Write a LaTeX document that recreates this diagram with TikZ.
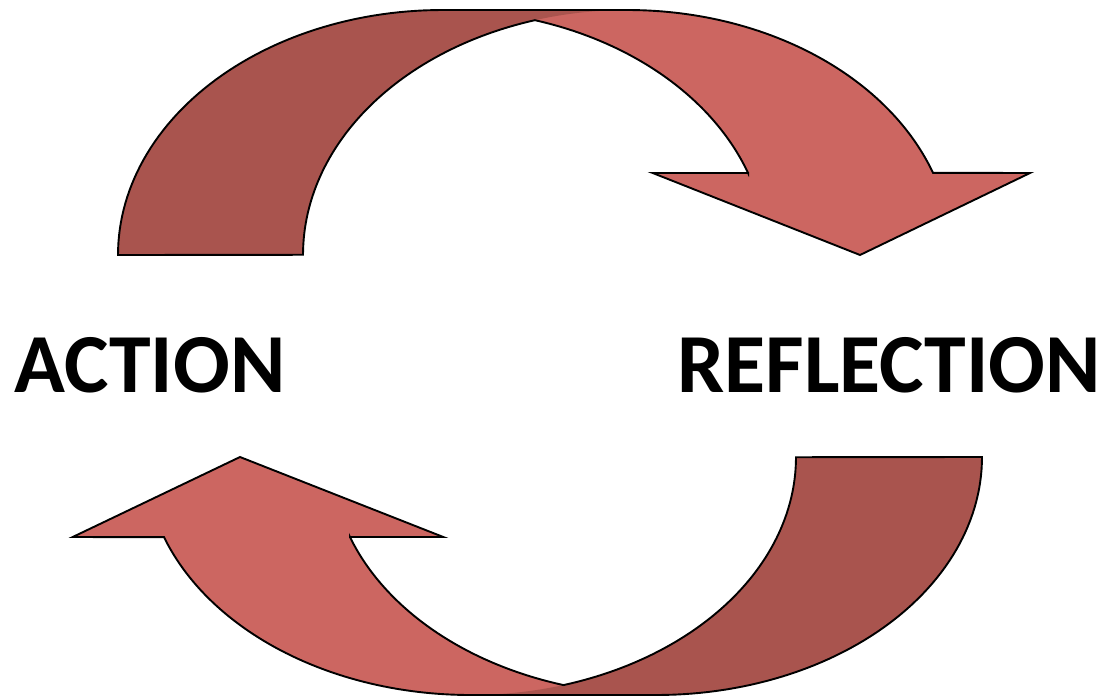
\documentclass[tikz,border=0pt]{standalone}
\usepackage{fontspec}
\setmainfont{Carlito}
\definecolor{arwlight}{RGB}{204,102,97}
\definecolor{arwdark}{RGB}{169,84,78}
\tikzset{
  lightpart/.style={fill=arwlight},
  darkpart/.style={fill=arwdark},
  outline/.style={draw=black,line width=1.9pt,line join=miter},
  label/.style={inner sep=0pt,anchor=base,font=\bfseries\fontsize{84}{100}\selectfont}
}
% #1 l, #2 b, #3 h, #4 wR, #5 th, #6 ah, #7 x4, #8 x8, #9 x6
\newcommand{\curvarrow}[9]{%
  \pgfmathsetmacro\arwCA{#1+#4}%
  \pgfmathsetmacro\arwCB{#1+#4+#5}%
  \pgfmathsetmacro\arwTop{#2-#3}%
  \pgfmathsetmacro\arwY{#2-#6}%
  \pgfmathsetmacro\arwS{asin(#6/#3)}%
  \pgfmathsetmacro\arwIA{acos((#5/2)/#4)}%
  \pgfmathsetmacro\arwIB{180-\arwIA}%
  \pgfmathsetmacro\arwXf{\arwCA+#4*cos(\arwS)}%
  % light (front) band
  \fill[lightpart] (#7,\arwY) -- (\arwXf,\arwY)
    -- plot[domain=0:1,samples=60,variable=\t]
       ({\arwCA+#4*cos(\arwS+(90-\arwS)*\t)},{#2-#3*sin(\arwS+(90-\arwS)*\t)})
    -- (\arwCB,\arwTop)
    -- plot[domain=0:1,samples=60,variable=\t]
       ({\arwCB+#4*cos(90+(\arwS-90)*\t)},{#2-#3*sin(90+(\arwS-90)*\t)})
    -- (#8,\arwY) -- (#9,#2) -- cycle;
  % dark (back) band
  \fill[darkpart] (#1,#2)
    -- plot[domain=0:1,samples=60,variable=\t]
       ({\arwCA+#4*cos(180-90*\t)},{#2-#3*sin(180-90*\t)})
    -- (\arwCB,\arwTop)
    -- plot[domain=0:1,samples=60,variable=\t]
       ({\arwCB+#4*cos(90+90*\t)},{#2-#3*sin(90+90*\t)})
    -- cycle;
  % outline
  \draw[outline] (#1,#2)
    -- plot[domain=0:1,samples=60,variable=\t]
       ({\arwCA+#4*cos(180-90*\t)},{#2-#3*sin(180-90*\t)})
    -- (\arwCB,\arwTop)
    -- plot[domain=0:1,samples=60,variable=\t]
       ({\arwCB+#4*cos(90+(\arwS-90)*\t)},{#2-#3*sin(90+(\arwS-90)*\t)})
    -- (#8,\arwY) -- (#9,#2) -- (#7,\arwY) -- (\arwXf,\arwY)
    -- plot[domain=0:1,samples=60,variable=\t]
       ({\arwCA+#4*cos(\arwS+(\arwIA-\arwS)*\t)},{#2-#3*sin(\arwS+(\arwIA-\arwS)*\t)})
    -- plot[domain=0:1,samples=60,variable=\t]
       ({\arwCB+#4*cos(\arwIB+(180-\arwIB)*\t)},{#2-#3*sin(\arwIB+(180-\arwIB)*\t)})
    -- cycle;
}
\begin{document}
\begin{tikzpicture}[x=1pt,y=-1pt]
\useasboundingbox (0,0) rectangle (1105,699);
% top arrow
\curvarrow{118}{255}{245}{324.4}{185}{82}{652.7}{1030}{860}
% bottom arrow (rotated 180 degrees)
\begin{scope}[shift={(1100,712)},xscale=-1,yscale=-1]
\curvarrow{118}{255}{238}{325.5}{186}{80}{656.7}{1027.3}{860}
\end{scope}
\node[label] (action) at (150,392) {ACTION};
\node[label] (reflection) at (889,392) {REFLECTION};
\end{tikzpicture}
\end{document}
